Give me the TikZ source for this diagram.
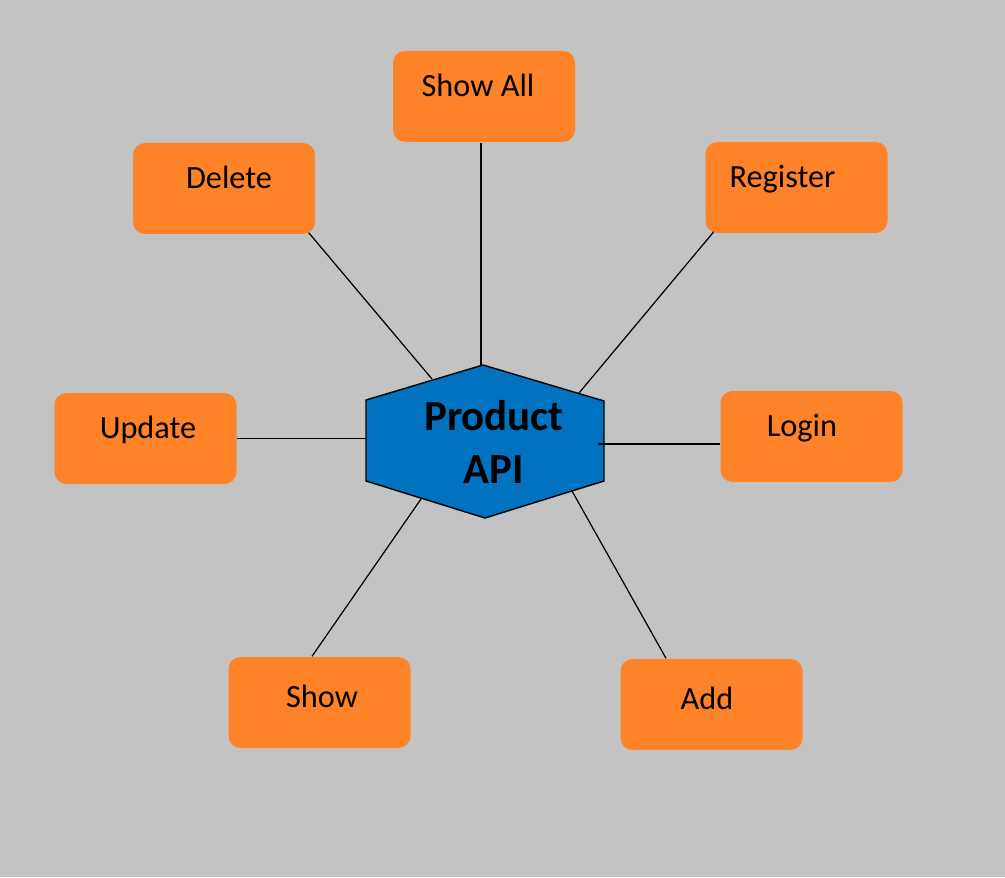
\documentclass[tikz,border=0pt]{standalone}
\usepackage{fontspec}
\setmainfont{Carlito}
\usetikzlibrary{calc}

\definecolor{bggray}{RGB}{195,195,195}
\definecolor{boxorange}{RGB}{253,130,40}
\definecolor{hexblue}{RGB}{0,114,192}

\tikzset{
    op/.style={rectangle, rounded corners=0.12cm, fill=boxorange,
        minimum width=1.82cm, minimum height=0.91cm, inner sep=0pt,
        text height=0.25cm, text depth=0.25cm,
        font=\fontsize{9.2}{11}\selectfont},
    oplow/.style={op, text height=0.3cm, text depth=0.2cm},
    link/.style={line width=0.35pt, black},
    hexagon/.style={draw=black, line width=0.4pt, fill=hexblue}
}

\begin{document}
\begin{tikzpicture}
    \fill[bggray] (0, 0) rectangle (10.05, 8.77);
    \useasboundingbox (0, 0) rectangle (10.05, 8.77);

    % hexagon corners
    \coordinate (h1) at (4.83, 5.12);
    \coordinate (h2) at (6.04, 4.76);
    \coordinate (h3) at (6.04, 3.96);
    \coordinate (h4) at (4.85, 3.59);
    \coordinate (h5) at (3.66, 3.96);
    \coordinate (h6) at (3.66, 4.77);
    \draw[hexagon] (h1) -- (h2) -- (h3) -- (h4) -- (h5) -- (h6) -- cycle;
    \node[align=center, font=\fontsize{12.2}{15.2}\selectfont\bfseries] at (4.94, 4.35)(api){Product\\API};

    % where the links meet the hexagon
    \coordinate (toShowAll) at (4.81, 5.12);
    \coordinate (toDelete) at (4.32, 4.98);
    \coordinate (toRegister) at (5.79, 4.84);
    \coordinate (toUpdate) at (3.66, 4.385);
    \coordinate (toLogin) at (5.98, 4.33);
    \coordinate (toShow) at (4.21, 3.78);
    \coordinate (toAdd) at (5.72, 3.86);

    \node[op] at (4.84, 7.805)(showall){Show All\hspace*{0.12cm}};
    \node[op] at (2.24, 6.885)(delete){\hspace*{0.1cm}Delete};
    \node[op] at (7.965, 6.895)(register){Register\hspace*{0.28cm}};
    \node[op] at (1.455, 4.385)(update){\hspace*{0.05cm}Update};
    \node[op] at (8.115, 4.405)(login){Login\hspace*{0.19cm}};
    \node[oplow] at (3.195, 1.745)(show){\hspace*{0.05cm}Show};
    \node[oplow] at (7.115, 1.725)(add){Add\hspace*{0.09cm}};

    \path[link]
        ([xshift=-0.03cm]showall.south)edge(toShowAll)
        ([xshift=-0.07cm, yshift=0.02cm]delete.south east)edge(toDelete)
        ([xshift=0.09cm, yshift=0.02cm]register.south west)edge(toRegister)
        (update.east)edge(toUpdate)
        ([yshift=-0.075cm]login.west)edge(toLogin)
        ([xshift=-0.075cm]show.north)edge(toShow)
        ([xshift=-0.455cm]add.north)edge(toAdd)
        ;
\end{tikzpicture}
\end{document}
